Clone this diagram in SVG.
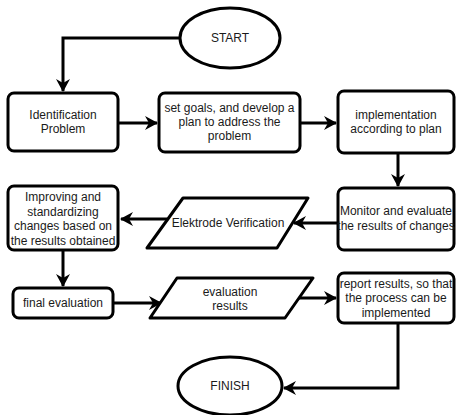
<svg xmlns="http://www.w3.org/2000/svg" width="456" height="415" viewBox="0 0 456 415">
<defs>
<style>
.n{fill:#fff;stroke:#000;stroke-width:3;stroke-linejoin:round}
.c{fill:none;stroke:#000;stroke-width:3}
text{font-family:"Liberation Sans",Arial,sans-serif;font-size:12px;fill:#1a1a1a;text-anchor:middle}
</style>
<marker id="a" markerUnits="userSpaceOnUse" markerWidth="14" markerHeight="14" refX="12" refY="7" orient="auto" viewBox="0 0 14 14">
<path d="M0,0 L13,7 L0,14 L4,7 Z" fill="#000"/>
</marker>
</defs>
<rect width="456" height="415" fill="#fff"/>
<g id="connectors">
<path class="c" d="M180,38 H63 V91" marker-end="url(#a)"/>
<path class="c" d="M118,123 H157" marker-end="url(#a)"/>
<path class="c" d="M300,123 H336" marker-end="url(#a)"/>
<path class="c" d="M398,153 V186" marker-end="url(#a)"/>
<path class="c" d="M338,223 H294" marker-end="url(#a)"/>
<path class="c" d="M167,219 H121" marker-end="url(#a)"/>
<path class="c" d="M63,250 V286" marker-end="url(#a)"/>
<path class="c" d="M113,303 H161" marker-end="url(#a)"/>
<path class="c" d="M293,298 H336" marker-end="url(#a)"/>
<path class="c" d="M398,323 V388 H284" marker-end="url(#a)"/>
</g>
<g id="start">
<ellipse class="n" cx="230" cy="38" rx="50" ry="30"/>
<text x="230" y="42">START</text>
</g>
<g id="identification">
<rect class="n" x="8" y="93" width="110" height="58" rx="6"/>
<text x="63" y="119">Identification</text>
<text x="63" y="133">Problem</text>
</g>
<g id="goals">
<rect class="n" x="159" y="93" width="141" height="59" rx="6"/>
<text x="229.5" y="112">set goals, and develop a</text>
<text x="229.5" y="126">plan to address the</text>
<text x="229.5" y="140">problem</text>
</g>
<g id="implementation">
<rect class="n" x="338" y="91" width="116" height="62" rx="6"/>
<text x="396" y="119">implementation</text>
<text x="396" y="133">according to plan</text>
</g>
<g id="monitor">
<rect class="n" x="338" y="188" width="116" height="62" rx="6"/>
<text x="396" y="215">Monitor and evaluate</text>
<text x="396" y="230">the results of changes</text>
</g>
<g id="elektrode">
<path class="n" d="M183,198 H308 L277,248 H147 Z"/>
<text x="228" y="227">Elektrode Verification</text>
</g>
<g id="improving">
<rect class="n" x="8" y="186" width="110" height="64" rx="6"/>
<text x="63" y="201">Improving and</text>
<text x="63" y="216">standardizing</text>
<text x="63" y="230">changes based on</text>
<text x="63" y="245">the results obtained</text>
</g>
<g id="final">
<rect class="n" x="13" y="288" width="100" height="30" rx="6"/>
<text x="63" y="307">final evaluation</text>
</g>
<g id="evalresults">
<path class="n" d="M177,278 H313 L285,318 H150 Z"/>
<text x="230" y="296">evaluation</text>
<text x="230" y="310">results</text>
</g>
<g id="report">
<rect class="n" x="338" y="273" width="116" height="50" rx="6"/>
<text x="396" y="288">report results, so that</text>
<text x="396" y="302">the process can be</text>
<text x="396" y="317">implemented</text>
</g>
<g id="finish">
<ellipse class="n" cx="230" cy="386" rx="52" ry="29"/>
<text x="230" y="390">FINISH</text>
</g>
</svg>
